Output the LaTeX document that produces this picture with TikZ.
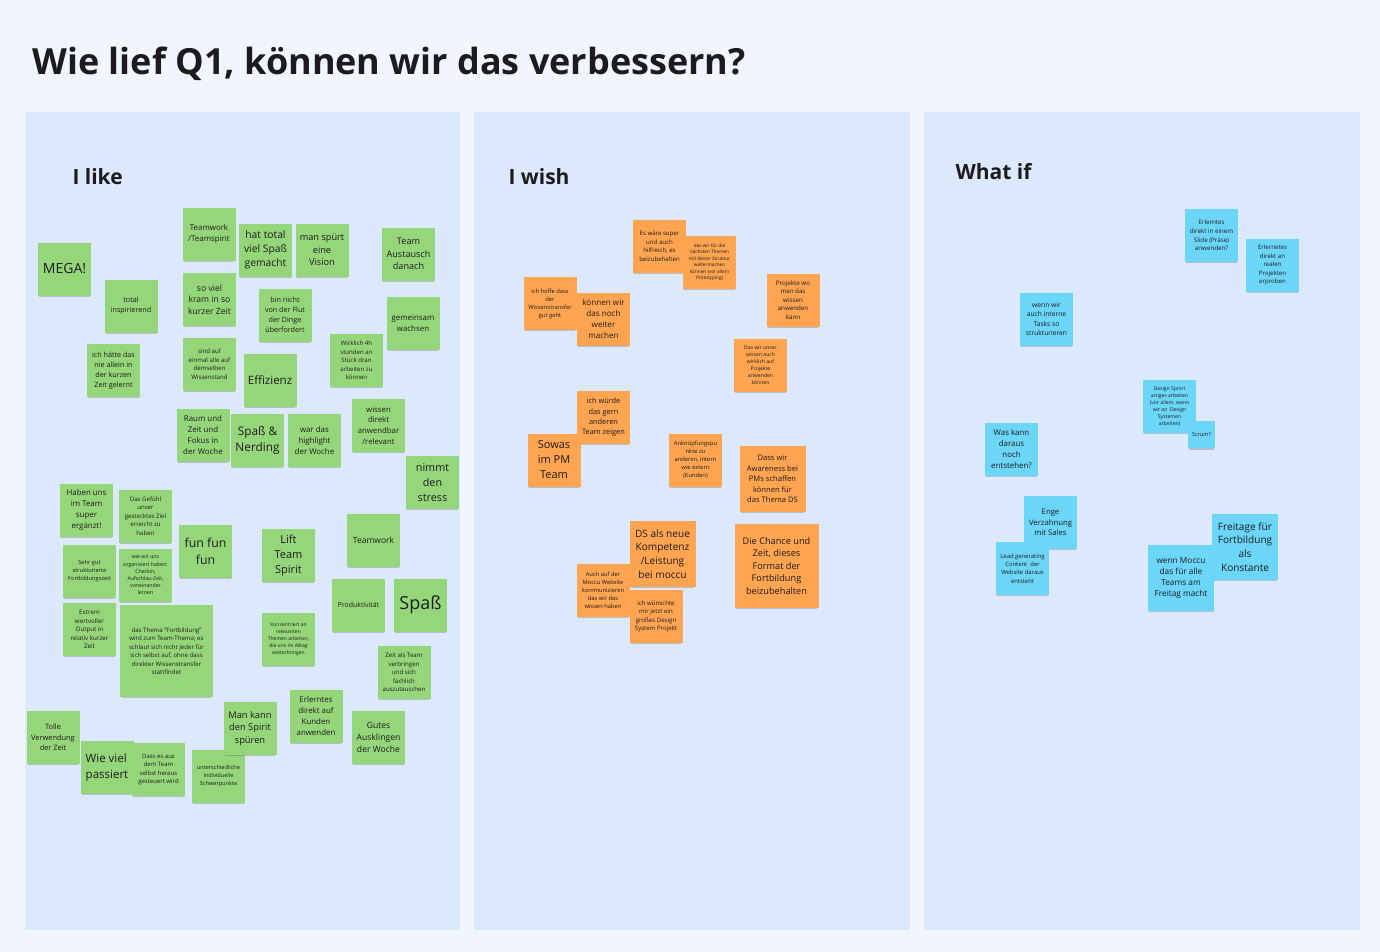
\documentclass[tikz,border=0pt]{standalone}
\usepackage{fontspec}
\setmainfont{Open Sans}
\usepackage{tikz}
\usetikzlibrary{shadows}

\definecolor{boardbg}{RGB}{240,245,254}
\definecolor{panelbg}{RGB}{220,232,251}
\definecolor{ink}{RGB}{28,28,30}
\definecolor{likegreen}{RGB}{150,214,122}
\definecolor{wishorange}{RGB}{255,164,80}
\definecolor{whatifblue}{RGB}{108,214,248}

\begin{document}
\begin{tikzpicture}[
    x=1pt, y=-1pt,
    every node/.style={text=ink},
    head/.style={font=\bfseries\fontsize{21}{25}\selectfont, anchor=base west},
    sticky/.style={rectangle, minimum width=53pt, minimum height=53pt, inner sep=1pt,
                   align=center,
                   drop shadow={shadow xshift=0pt, shadow yshift=-2.5pt, opacity=0.18,
                                shadow scale=0.96, fill=black}},
    like/.style={sticky, fill=likegreen},
    wish/.style={sticky, fill=wishorange},
    whatif/.style={sticky, fill=whatifblue},
    sz/.style 2 args={font=\fontsize{#1}{#2}\selectfont}
]
\fill[boardbg] (0,0) rectangle (1380,952);
\useasboundingbox (0,0) rectangle (1380,952);
\fill[panelbg] (25,112) rectangle (460,930);
\fill[panelbg] (474,112) rectangle (910,930);
\fill[panelbg] (924,112) rectangle (1360,930);

\node[font=\bfseries\fontsize{36}{42}\selectfont, anchor=base west] (title) at (29,75) {Wie lief Q1, können wir das verbessern?};
\node[head] (ilike)  at (69,185)  {I like};
\node[head] (iwish)  at (505,185) {I wish};
\node[head] (whatif) at (952,179) {What if};

\node[like, sz={14}{17}] (mega) at (64.5,269) {MEGA!};
\node[like, sz={7.2}{10}] (inspirierend) at (131,306) {total\\inspirierend};
\node[like, sz={7.2}{10}] (allein) at (113.5,370.5) {ich hätte das\\nie allein in\\der kurzen\\Zeit gelernt};
\node[like, sz={7.9}{11}] (teamspirit) at (209,234) {Teamwork\\/Teamspirit};
\node[like, sz={10.3}{14}] (spassgemacht) at (265.5,250) {hat total\\viel Spaß\\gemacht};
\node[like, sz={9.2}{12.5}] (vision) at (322,250) {man spürt\\eine\\Vision};
\node[like, sz={9.1}{12.3}] (austausch) at (408.5,254) {Team\\Austausch\\danach};
\node[like, sz={8.6}{11.7}] (kram) at (209.5,299.5) {so viel\\kram in so\\kurzer Zeit};
\node[like, sz={7.2}{10}] (flut) at (285,315) {bin nicht\\von der Flut\\der Dinge\\überfordert};
\node[like, sz={7.9}{11}] (wachsen) at (413,323) {gemeinsam\\wachsen};
\node[like, sz={6.1}{8.5}] (wissenstand) at (209.5,364) {sind auf\\einmal alle auf\\demselben\\Wissenstand};
\node[like, sz={11.5}{14}] (effizienz) at (270,380) {Effizienz};
\node[like, sz={6.1}{8.5}] (stunden) at (356.5,360.5) {Wirklich 4h\\stunden an\\Stück dran\\arbeiten zu\\können};
\node[like, sz={7.9}{11}] (fokus) at (203,435) {Raum und\\Zeit und\\Fokus in\\der Woche};
\node[like, sz={11.8}{15.7}] (nerding) at (257.5,440.5) {Spaß \&\\Nerding};
\node[like, sz={7.9}{11}] (highlight) at (314.5,440.5) {war das\\highlight\\der Woche};
\node[like, sz={7.8}{10.8}] (anwendbar) at (378.5,425.5) {wissen\\direkt\\anwendbar\\/relevant};
\node[like, sz={10.8}{14.7}] (stress) at (432.5,482.5) {nimmt\\den\\stress};

\node[like, sz={7.9}{11}] (ergaenzt) at (86.5,510) {Haben uns\\im Team\\super\\ergänzt!};
\node[like, sz={6.1}{8.5}] (ziel) at (145.5,516) {Das Gefühl\\unser\\gestecktes Ziel\\erreicht zu\\haben};
\node[like, sz={12.3}{16.7}] (funfun) at (205.5,551.5) {fun fun\\fun};
\node[like, sz={5.7}{8}] (strukturiert) at (89.5,571.5) {Sehr gut\\strukturierte\\Fortbildungszeit};
\node[like, sz={5.2}{7.2}] (organisiert) at (145.5,575) {wie wir uns\\organisiert haben:\\Checkin,\\Aufschlau-Zeit,\\voneinander\\lernen};
\node[like, sz={6.2}{8.6}] (output) at (89.5,629.5) {Extrem\\wertvoller\\Output in\\relativ kurzer\\Zeit};
\node[like, sz={6.1}{8.5}, minimum width=93pt, minimum height=92pt] (teamthema) at (166.5,651) {das Thema "Fortbildung"\\wird zum Team-Thema; es\\schlaut sich nicht jeder für\\sich selbst auf, ohne dass\\direkter Wissenstransfer\\stattfindet};
\node[like, sz={11}{15}] (lift) at (288.5,555.5) {Lift\\Team\\Spirit};
\node[like, sz={8.5}{11}] (teamwork) at (373.5,540) {Teamwork};
\node[like, sz={6.9}{9}] (produktiv) at (358.5,605) {Produktivität};
\node[like, sz={18}{21}] (spass) at (420.5,605) {Spaß};
\node[like, sz={5}{7}] (konzentriert) at (288.5,639.5) {Konzentriert an\\relevanten\\Themen arbeiten,\\die uns im Alltag\\weiterbringen};
\node[like, sz={6.1}{8.5}] (zeitalsteam) at (404,672.5) {Zeit als Team\\verbringen\\und sich\\fachlich\\auszutauschen};

\node[like, sz={7.4}{10.3}] (verwendung) at (53,737.5) {Tolle\\Verwendung\\der Zeit};
\node[like, sz={11.5}{16}, align=left] (wieviel) at (107,767.5) {Wie viel\\passiert};
\node[like, sz={6}{8.4}] (gesteuert) at (158.5,769.5) {Dass es aus\\dem Team\\selbst heraus\\gesteuert wird};
\node[like, sz={5.6}{8}] (schwerpunkte) at (218.5,776) {unterschiedliche\\individuelle\\Schwerpunkte};
\node[like, sz={9.3}{12.7}] (spirit) at (250,728.5) {Man kann\\den Spirit\\spüren};
\node[like, sz={7.9}{11}] (kunden) at (316,716) {Erlerntes\\direkt auf\\Kunden\\anwenden};
\node[like, sz={8.6}{11.7}] (ausklingen) at (378.5,737.5) {Gutes\\Ausklingen\\der Woche};

\node[wish, sz={6.1}{8.5}] (beibehalten) at (659.5,246.5) {Es wäre super\\und auch\\hilfreich, es\\beizubehalten};
\node[wish, sz={4.7}{6.5}] (struktur) at (709.5,262.5) {das wir für die\\nächsten Themen\\mit dieser Struktur\\weitermachen\\können (vor allem\\Prototyping)};
\node[wish, sz={5.8}{8}] (hoffe) at (550,303.5) {ich hoffe dass\\der\\Wissenstransfer\\gut geht};
\node[wish, sz={8.1}{11}] (weiter) at (603.5,319) {können wir\\das noch\\weiter\\machen};
\node[wish, sz={6.2}{8.6}] (projekte) at (793,300) {Projekte wo\\man das\\wissen\\anwenden\\kann};
\node[wish, sz={5.1}{7.1}] (unserwissen) at (760.5,365) {Das wir unser\\wissen auch\\wirklich auf\\Projekte\\anwenden\\können};
\node[wish, sz={7.4}{10.3}] (zeigen) at (603.5,417.5) {ich würde\\das gern\\anderen\\Team zeigen};
\node[wish, sz={11}{15}] (pmteam) at (554,460) {Sowas\\im PM\\Team};
\node[wish, sz={5.8}{8}] (anknuepfung) at (695.5,460) {Anknüpfungspu\\nkte zu\\anderen, intern\\wie extern\\(Kunden)};
\node[wish, sz={7.6}{10.6}, minimum size=66pt] (awareness) at (772.5,479) {Dass wir\\Awareness bei\\PMs schaffen\\können für\\das Thema DS};
\node[wish, sz={10.1}{13.7}, minimum size=66pt] (kompetenz) at (662.5,554) {DS als neue\\Kompetenz\\/Leistung\\bei moccu};
\node[wish, sz={9.2}{12.5}, minimum size=84pt] (chance) at (776.5,566) {Die Chance und\\Zeit, dieses\\Format der\\Fortbildung\\beizubehalten};
\node[wish, sz={5.8}{8}] (website) at (603,590) {Auch auf der\\Moccu Website\\kommunizieren\\das wir das\\wissen haben};
\node[wish, sz={6.1}{8.5}] (designsystem) at (656,616.5) {ich wünschte\\mir jetzt ein\\großes Design\\System Projekt};

\node[whatif, sz={6.2}{8.6}] (slide) at (1211.5,235.5) {Erlerntes\\direkt in einem\\Slide (Präse)\\anwenden?};
\node[whatif, sz={6.1}{8.5}] (erproben) at (1272.5,265) {Erlernetes\\direkt an\\realen\\Projekten\\erproben};
\node[whatif, sz={6.7}{9.3}] (interne) at (1046.5,319) {wenn wir\\auch interne\\Tasks so\\strukturieren};
\node[whatif, sz={5.1}{7.1}] (sprint) at (1169.5,406.5) {Design Sprint\\artiges arbeiten\\(vor allem, wenn\\wir an~ Design\\Systemen\\arbeiten)};
\node[whatif, sz={5.5}{7}, minimum size=27pt] (scrum) at (1201.5,434.5) {Scrum?};
\node[whatif, sz={7.9}{11}] (entstehen) at (1011.5,449) {Was kann\\daraus\\noch\\entstehen?};
\node[whatif, sz={7.7}{10.7}] (sales) at (1050.5,522.5) {Enge\\Verzahnung\\mit Sales};
\node[whatif, sz={5.9}{8.2}] (lead) at (1022.5,568.5) {Lead generating\\Content~ der\\Website daraus\\entsteht};
\node[whatif, sz={10.1}{13.8}, minimum size=66pt] (konstante) at (1245,547) {Freitage für\\Fortbildung\\als\\Konstante};
\node[whatif, sz={8.3}{11.3}, minimum size=66pt] (freitag) at (1181,578) {wenn Moccu\\das für alle\\Teams am\\Freitag macht};
\end{tikzpicture}
\end{document}
